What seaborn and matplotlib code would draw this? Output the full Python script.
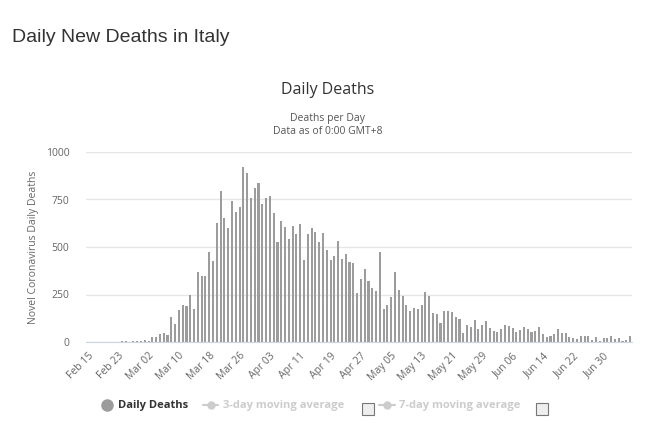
import pandas as pd
import matplotlib.pyplot as plt
import seaborn as sns
from matplotlib.lines import Line2D
from matplotlib.patches import Rectangle

# daily deaths, Feb 15 .. Jul 07
dates = pd.date_range("2020-02-15", "2020-07-07", freq="D")
deaths_feb = [0, 0, 0, 0, 0, 0, 1, 1, 1, 4, 3, 2, 5, 4, 3]
deaths_mar = [8, 5, 27, 28, 41, 49, 36, 133, 97, 168, 196, 189, 250, 175, 368, 349,
              345, 475, 427, 627, 793, 651, 601, 743, 683, 712, 919, 889, 756, 812, 837]
deaths_apr = [727, 760, 766, 681, 525, 636, 604, 542, 610, 570, 619, 431, 566, 602, 578,
              525, 575, 482, 433, 454, 534, 437, 464, 420, 415, 260, 333, 382, 323, 285]
deaths_may = [269, 474, 174, 195, 236, 369, 274, 243, 194, 165, 179, 172, 195, 262, 242,
              153, 145, 99, 162, 161, 156, 130, 119, 50, 92, 78, 117, 70, 87, 111, 75]
deaths_jun = [60, 55, 71, 88, 85, 72, 53, 65, 79, 71, 53, 56, 78, 44, 26,
              34, 43, 66, 47, 49, 24, 23, 18, 30, 34, 30, 8, 24, 6, 23]
deaths_jul = [21, 30, 15, 21, 7, 8, 30]
y_ticks = [0, 250, 500, 750, 1000]

deaths = deaths_feb + deaths_mar + deaths_apr + deaths_may + deaths_jun + deaths_jul
labels = [d.strftime("%b %d") for d in dates]
df = pd.DataFrame({"Date": labels, "Deaths": deaths})

sns.set_style("white")
plt.rcParams["font.family"] = ["Open Sans", "DejaVu Sans"]

W, H = 658, 423
fig = plt.figure(figsize=(W / 100, H / 100), dpi=100)
ax = fig.add_axes([86 / W, 1 - 342 / H, (632 - 86) / W, (342 - 152) / H])

sns.barplot(data=df, x="Date", y="Deaths", color="#9c9c9c", width=0.55,
            saturation=1, linewidth=0, ax=ax)

ax.set_xlim(-0.5, len(deaths) - 0.5)
ax.set_ylim(0, 1000)
ax.set_yticks(y_ticks)
ax.set_yticklabels([str(v) for v in y_ticks], fontsize=7.5, color="#666666")
ax.set_xticks(range(0, len(deaths), 8))
ax.set_xticklabels(labels[::8], rotation=45, ha="right", rotation_mode="anchor",
                   fontsize=7.5, color="#666666")
ax.tick_params(axis="both", length=0)
ax.tick_params(axis="x", pad=6)
ax.tick_params(axis="y", pad=12)
ax.yaxis.grid(True, color="#e6e6e6", linewidth=1)
ax.set_axisbelow(True)
for s in ["top", "right", "left"]:
    ax.spines[s].set_visible(False)
ax.spines["bottom"].set_color("#ccd6eb")
ax.set_xlabel("")
ax.set_ylabel("Novel Coronavirus Daily Deaths", fontsize=7.5, color="#666666", labelpad=5)

# titles
fig.text(12 / W, 1 - 37 / H, "Daily New Deaths in Italy", fontsize=14,
         color="#333333", va="center", family=["Liberation Sans", "DejaVu Sans"])
fig.text(328 / W, 1 - 90 / H, "Daily Deaths", fontsize=11.5, color="#333333",
         ha="center", va="center")
fig.text(328 / W, 1 - 118 / H, "Deaths per Day", fontsize=7.5, color="#555555",
         ha="center", va="center")
fig.text(328 / W, 1 - 131 / H, "Data as of 0:00 GMT+8", fontsize=7.5, color="#555555",
         ha="center", va="center")

# legend
ly = 1 - 405 / H
fig.add_artist(Line2D([107 / W], [ly], marker="o", markersize=8, color="#9c9c9c",
                      transform=fig.transFigure))
fig.text(118 / W, ly, "Daily Deaths", fontsize=8, fontweight="bold", color="#333333",
         va="center")
for x0, x1, tx, name, cb in [(203, 218, 223, "3-day moving average", 362),
                              (379, 395, 399, "7-day moving average", 536)]:
    fig.add_artist(Line2D([x0 / W, x1 / W], [ly, ly], color="#cccccc", linewidth=1.5,
                          transform=fig.transFigure))
    fig.add_artist(Line2D([(x0 + x1) / 2 / W], [ly], marker="o", markersize=5,
                          color="#cccccc", transform=fig.transFigure))
    fig.text(tx / W, ly, name, fontsize=8, fontweight="bold", color="#cccccc", va="center")
    fig.add_artist(Rectangle((cb / W, 1 - 415 / H), 12 / W, 12 / H, facecolor="#eeeeee",
                             edgecolor="#777777", linewidth=0.8, transform=fig.transFigure))

fig.savefig("out.png", dpi=100)
plt.close()
